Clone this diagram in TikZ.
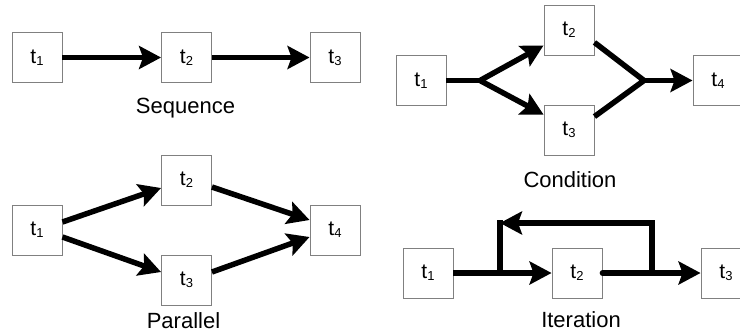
\documentclass[tikz,border=0pt]{standalone}
\usepackage{fontspec}
\setmainfont{Liberation Sans}
\usetikzlibrary{arrows.meta}
\newcommand\tsub[1]{t\raisebox{-2pt}{\fontsize{13}{13}\selectfont #1}}
\tikzset{
  box/.style={draw=black!50, line width=0.9pt, fill=white, minimum width=50pt, minimum height=50pt, inner sep=0pt, font=\fontsize{21}{21}\selectfont},
  conn/.style={line width=5.5pt},
  arr/.style={conn, -{Stealth[length=22pt,width=23pt,inset=4pt]}},
  caption/.style={anchor=base, font=\fontsize{22}{22}\selectfont, inner sep=0pt}
}
\begin{document}
\begin{tikzpicture}[x=1pt,y=-1pt]
\useasboundingbox (0,0) rectangle (740,333);
\clip (0,0) rectangle (740,333);
% Sequence
\node[box] (s1) at (37,57.5) {\tsub{1}};
\node[box] (s2) at (186.5,57.5) {\tsub{2}};
\node[box] (s3) at (335,57.5) {\tsub{3}};
\draw[arr] (s1.east) -- (s2.west);
\draw[arr] (s2.east) -- (s3.west);
\node[caption] (seq) at (185.5,113) {Sequence};
% Condition
\node[box] (c1) at (421,80.5) {\tsub{1}};
\node[box] (c2) at (569,30) {\tsub{2}};
\node[box] (c3) at (569,130) {\tsub{3}};
\node[box] (c4) at (718,80.5) {\tsub{4}};
\coordinate (cb) at (480,80.5);
\coordinate (cm) at (644,80.5);
\draw[conn] (c1.east) -- (cb);
\draw[arr] (cb) -- ([yshift=10pt]c2.south west);
\draw[arr] (cb) -- ([yshift=-10pt]c3.north west);
\draw[conn, line join=miter] ([yshift=13pt]c2.south east) -- (cm) -- ([yshift=-12pt]c3.north east);
\draw[arr] (cm) -- (c4.west);
\node[caption] (cond) at (570,187) {Condition};
% Parallel
\node[box] (p1) at (37,230) {\tsub{1}};
\node[box] (p2) at (186.5,180) {\tsub{2}};
\node[box] (p3) at (186.5,280) {\tsub{3}};
\node[box] (p4) at (335,230) {\tsub{4}};
\draw[arr] ([yshift=8pt]p1.east) -- ([yshift=-8pt]p2.west);
\draw[arr] ([yshift=-7pt]p1.east) -- ([yshift=8pt]p3.west);
\draw[arr] ([yshift=-7pt]p2.east) -- ([yshift=10pt]p4.west);
\draw[arr] ([yshift=8pt]p3.east) -- ([yshift=-7pt]p4.west);
\node[caption] (par) at (183.5,328) {Parallel};
% Iteration
\node[box] (i1) at (428,273) {\tsub{1}};
\node[box] (i2) at (577,273) {\tsub{2}};
\node[box] (i3) at (726,273) {\tsub{3}};
\coordinate (ja) at (500,273);
\coordinate (jb) at (652,273);
\coordinate (ta) at (500,223);
\coordinate (tb) at (652,223);
\draw[arr] (i1.east) -- (i2.west);
\draw[arr, line cap=round] (i2.east) -- (i3.west);
\draw[conn, line cap=rect] (ja) -- (ta);
\draw[arr, line join=miter] (jb) -- (tb) -- (ta);
\node[caption] (iter) at (581,327) {Iteration};
\end{tikzpicture}
\end{document}
